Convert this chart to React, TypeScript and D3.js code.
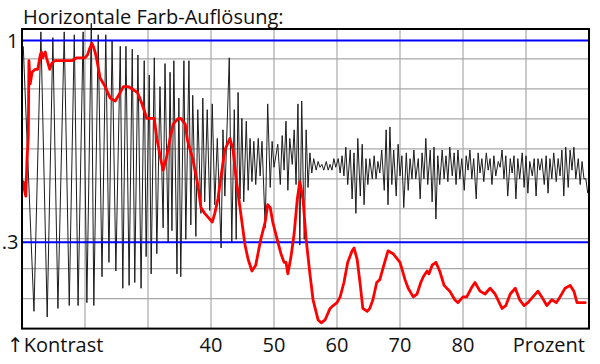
import React from "react";
import * as d3 from "d3";

const title = "Horizontale Farb-Auflösung:";
const xTicks = [40, 50, 60, 70, 80];
const yTickValues = [1, 0.3];
const yTickLabels = ["1", ".3"];
const leftAxisLabel = "↑Kontrast";
const rightAxisLabel = "Prozent";
const blueLevels = [1, 0.3];

// black trace: [percent, contrast]
const signal: [number, number][] = [
  [10.2, 0.98], [11.9, 0.06], [13.0, 1.03], [14.0, 0.04], [14.9, 1.01], [15.7, 0.07], [16.7, 1.03], [17.5, 0.08],
  [18.3, 1.02], [18.9, 0.08], [19.7, 1.03], [20.3, 0.09], [21.0, 1.06], [21.4, 0.08], [22.1, 1.02], [22.7, 0.18],
  [23.3, 1.02], [23.8, 0.23], [24.3, 1.0], [24.9, 0.2], [25.6, 0.98], [26.0, 0.14], [26.5, 0.98], [27.0, 0.15],
  [27.5, 0.97], [27.9, 0.16], [28.4, 0.95], [28.9, 0.14], [29.4, 0.93], [29.7, 0.25],
  [30.2, 0.88], [30.5, 0.19], [31.0, 0.94], [31.4, 0.26], [31.9, 0.84], [32.4, 0.35], [32.7, 0.92], [33.2, 0.3],
  [33.5, 0.89], [33.8, 0.34], [34.1, 0.93], [34.6, 0.19], [34.9, 0.8], [35.2, 0.18], [35.7, 0.93], [36.0, 0.31],
  [36.5, 0.93], [36.8, 0.36], [37.1, 0.81], [37.6, 0.32], [37.9, 0.76], [38.4, 0.4], [38.7, 0.8], [39.0, 0.44],
  [39.4, 0.76], [39.8, 0.41], [40.2, 0.78], [40.6, 0.43], [41.0, 0.66], [41.6, 0.28], [41.9, 0.69], [42.2, 0.46],
  [42.9, 0.94], [43.3, 0.3], [43.7, 0.76], [44.0, 0.31], [44.3, 0.82], [44.6, 0.45], [44.9, 0.73], [45.2, 0.44],
  [45.6, 0.72], [45.9, 0.48], [46.2, 0.66], [46.5, 0.51], [46.8, 0.65], [47.1, 0.5], [47.5, 0.66], [47.8, 0.53],
  [48.1, 0.65], [48.6, 0.35], [49.0, 0.78], [49.4, 0.49], [49.7, 0.65], [50.0, 0.56],
  [50.6, 0.64], [51.0, 0.5], [51.3, 0.67], [51.6, 0.55], [51.9, 0.72], [52.2, 0.48], [52.5, 0.66], [52.9, 0.57],
  [53.2, 0.69], [53.5, 0.5], [53.8, 0.78], [54.1, 0.29], [54.4, 0.79], [54.8, 0.31], [55.1, 0.69], [55.4, 0.49],
  [55.7, 0.61], [56.0, 0.54], [56.3, 0.59], [56.7, 0.55], [57.0, 0.58], [57.3, 0.56], [57.6, 0.57], [57.9, 0.55],
  [58.3, 0.58], [58.6, 0.55], [58.9, 0.57], [59.2, 0.55], [59.5, 0.59], [59.8, 0.56], [60.2, 0.59], [60.5, 0.54],
  [60.8, 0.6], [61.1, 0.53], [61.4, 0.63], [61.7, 0.5], [62.1, 0.62], [62.4, 0.45], [62.7, 0.61], [63.0, 0.4],
  [63.3, 0.66], [63.7, 0.46], [64.0, 0.64], [64.3, 0.43], [64.6, 0.59], [64.9, 0.5], [65.2, 0.59], [65.6, 0.52],
  [65.9, 0.6], [66.2, 0.52], [66.5, 0.58], [66.8, 0.54], [67.1, 0.62], [67.5, 0.48], [67.8, 0.69], [68.1, 0.43],
  [68.4, 0.7], [68.7, 0.5], [69.0, 0.62], [69.4, 0.46], [69.7, 0.64], [70.0, 0.53], [70.3, 0.6], [70.6, 0.42],
  [71.0, 0.61], [71.3, 0.48], [71.6, 0.59], [71.9, 0.52], [72.2, 0.62], [72.5, 0.52], [72.9, 0.59], [73.2, 0.45],
  [73.5, 0.61], [73.8, 0.52], [74.1, 0.66], [74.4, 0.5], [74.8, 0.62], [75.1, 0.44], [75.4, 0.63], [75.7, 0.38],
  [76.0, 0.6], [76.3, 0.5], [76.7, 0.62], [77.0, 0.52], [77.3, 0.6], [77.6, 0.51], [77.9, 0.63], [78.3, 0.53],
  [78.6, 0.61], [78.9, 0.5], [79.2, 0.62], [79.5, 0.52], [79.8, 0.59], [80.2, 0.48], [80.5, 0.6], [80.8, 0.55],
  [81.1, 0.62], [81.4, 0.52], [81.7, 0.59], [82.1, 0.45], [82.4, 0.61], [82.7, 0.54], [83.0, 0.59], [83.3, 0.51],
  [83.7, 0.61], [84.0, 0.55], [84.3, 0.59], [84.6, 0.5], [84.9, 0.6], [85.2, 0.53], [85.6, 0.58], [85.9, 0.56],
  [86.2, 0.62], [86.5, 0.52], [86.8, 0.6], [87.1, 0.46], [87.5, 0.59], [87.8, 0.54], [88.1, 0.6], [88.4, 0.45],
  [88.7, 0.59], [89.0, 0.52], [89.4, 0.61], [89.7, 0.49], [90.0, 0.6], [90.3, 0.47], [90.6, 0.58], [91.0, 0.53],
  [91.3, 0.59], [91.6, 0.46], [91.9, 0.59], [92.2, 0.55], [92.5, 0.59], [92.9, 0.5], [93.2, 0.6], [93.5, 0.47],
  [93.8, 0.59], [94.1, 0.52], [94.4, 0.61], [94.8, 0.51], [95.1, 0.59], [95.4, 0.53], [95.7, 0.62], [96.0, 0.46],
  [96.3, 0.63], [96.7, 0.49], [97.0, 0.62], [97.3, 0.55], [97.6, 0.63], [97.9, 0.52], [98.3, 0.59], [98.6, 0.5],
  [98.9, 0.58], [99.2, 0.52], [99.5, 0.52], [99.8, 0.47],
];

// red curve: [percent, contrast]
const response: [number, number][] = [
  [10.2, 0.51], [10.4, 0.48], [10.6, 0.46], [10.8, 0.59], [11.0, 0.67], [11.1, 0.93], [11.3, 0.85], [11.6, 0.89],
  [12.1, 0.9], [12.5, 0.9], [12.9, 0.95], [13.1, 0.96], [13.3, 0.94], [13.7, 0.96], [13.9, 0.94], [14.4, 0.9],
  [14.7, 0.92], [15.2, 0.93], [15.7, 0.93], [16.3, 0.93], [17.1, 0.93], [17.9, 0.93], [18.7, 0.94], [19.2, 0.94],
  [20.0, 0.94], [20.4, 0.95], [20.7, 0.97], [21.1, 0.99], [21.3, 0.98], [21.6, 0.96], [21.9, 0.93], [22.4, 0.87],
  [23.2, 0.84], [24.0, 0.8], [24.8, 0.79], [25.6, 0.82], [26.1, 0.84], [26.9, 0.84], [27.6, 0.83], [28.3, 0.82],
  [28.7, 0.8], [29.2, 0.77], [29.8, 0.73], [30.5, 0.73], [31.0, 0.73], [31.4, 0.66], [32.1, 0.58], [32.4, 0.55],
  [32.9, 0.59], [33.5, 0.66], [34.0, 0.71], [34.8, 0.73], [35.2, 0.73], [35.9, 0.71], [36.3, 0.65], [37.1, 0.59],
  [37.9, 0.5], [38.4, 0.42], [39.0, 0.4], [39.8, 0.38], [40.2, 0.37], [40.6, 0.4], [41.1, 0.45], [41.6, 0.53],
  [42.2, 0.62], [43.0, 0.66], [43.5, 0.62], [44.0, 0.52], [44.6, 0.42], [45.4, 0.29], [45.9, 0.24], [46.5, 0.2],
  [47.1, 0.22], [47.9, 0.31], [48.6, 0.37], [49.0, 0.43], [49.4, 0.42], [49.8, 0.37], [50.5, 0.31], [51.1, 0.26],
  [51.6, 0.23], [51.9, 0.23], [52.2, 0.19], [52.7, 0.25], [53.2, 0.33], [53.7, 0.45], [54.1, 0.51], [54.6, 0.45],
  [55.1, 0.31], [55.7, 0.19], [56.2, 0.1], [57.0, 0.03], [57.5, 0.02], [58.1, 0.03], [58.9, 0.07], [59.4, 0.08],
  [60.0, 0.09], [60.5, 0.11], [61.1, 0.16], [61.7, 0.23], [62.4, 0.27], [62.7, 0.28], [63.2, 0.24], [63.7, 0.15],
  [64.1, 0.07], [64.8, 0.06], [65.2, 0.07], [65.7, 0.1], [66.3, 0.16], [66.8, 0.17], [67.3, 0.21], [68.1, 0.27],
  [68.9, 0.26], [70.0, 0.23], [70.8, 0.17], [71.3, 0.14], [72.1, 0.11], [72.7, 0.12], [73.3, 0.16], [73.7, 0.18],
  [74.3, 0.2], [74.6, 0.19], [75.1, 0.22], [75.7, 0.23], [76.3, 0.2], [77.0, 0.15], [77.9, 0.13], [78.7, 0.1],
  [79.2, 0.09], [80.0, 0.11], [80.6, 0.11], [81.3, 0.14], [81.9, 0.16], [82.7, 0.13], [83.5, 0.12], [84.3, 0.14],
  [85.1, 0.12], [86.2, 0.07], [86.8, 0.08], [87.5, 0.12], [88.3, 0.14], [89.0, 0.1], [89.7, 0.08], [90.3, 0.09],
  [91.1, 0.11], [91.9, 0.13], [92.5, 0.11], [93.3, 0.08], [94.1, 0.1], [94.8, 0.09], [95.4, 0.11], [96.2, 0.14],
  [97.0, 0.15], [97.6, 0.13], [98.1, 0.09], [98.9, 0.09], [99.4, 0.09],
];

const W = 600;
const H = 364;
const FONT = "'Open Sans', 'DejaVu Sans', sans-serif";

export default function App() {
  const x = d3.scaleLinear().domain([10, 100]).range([22, 589]);
  const y = d3.scaleLinear().domain([0, 1.04]).range([328.6, 29]);
  const rows = d3.scaleLinear().domain([0, 10]).range([328.6, 29]);

  const line = d3
    .line<[number, number]>()
    .x((d) => x(d[0]))
    .y((d) => y(d[1]));

  const vGrid = d3.range(20, 100, 10);
  const hGrid = d3.range(1, 10);

  return (
    <svg
      width={W}
      height={H}
      style={{ position: "absolute", left: 0, top: 0, background: "#fff" }}
    >
      <rect x={0} y={0} width={W} height={H} fill="#fff" />
      <text x={23} y={23.5} fontFamily={FONT} fontSize={20} fill="#111">
        {title}
      </text>
      <g stroke="#a8a8a8" strokeWidth={1.2}>
        {vGrid.map((v) => (
          <line key={"v" + v} x1={x(v)} x2={x(v)} y1={y.range()[1]} y2={y.range()[0]} />
        ))}
        {hGrid.map((r) => (
          <line key={"h" + r} x1={x(10)} x2={x(100)} y1={rows(r)} y2={rows(r)} />
        ))}
      </g>
      <path d={line(signal) || ""} fill="none" stroke="#1c1c1c" strokeWidth={1} strokeLinejoin="round" />
      <g stroke="#0000ff" strokeWidth={2}>
        {blueLevels.map((b) => (
          <line key={b} x1={x(10)} x2={x(100)} y1={y(b)} y2={y(b)} />
        ))}
      </g>
      <path d={line(response) || ""} fill="none" stroke="#ff0000" strokeWidth={2.8} strokeLinejoin="round" strokeLinecap="round" />
      <rect
        x={x(10)}
        y={y(1.04)}
        width={x(100) - x(10)}
        height={y(0) - y(1.04)}
        fill="none"
        stroke="#000"
        strokeWidth={2}
      />
      <g fontFamily={FONT} fontSize={20} fill="#111">
        {yTickValues.map((v, i) => (
          <text key={v} x={18.5} y={y(v) + 7} textAnchor="end">
            {yTickLabels[i]}
          </text>
        ))}
        {xTicks.map((t) => (
          <text key={t} x={x(t)} y={352} textAnchor="middle">
            {t}
          </text>
        ))}
        <text x={7} y={352}>{leftAxisLabel}</text>
        <text x={585} y={352} textAnchor="end">
          {rightAxisLabel}
        </text>
      </g>
    </svg>
  );
}
